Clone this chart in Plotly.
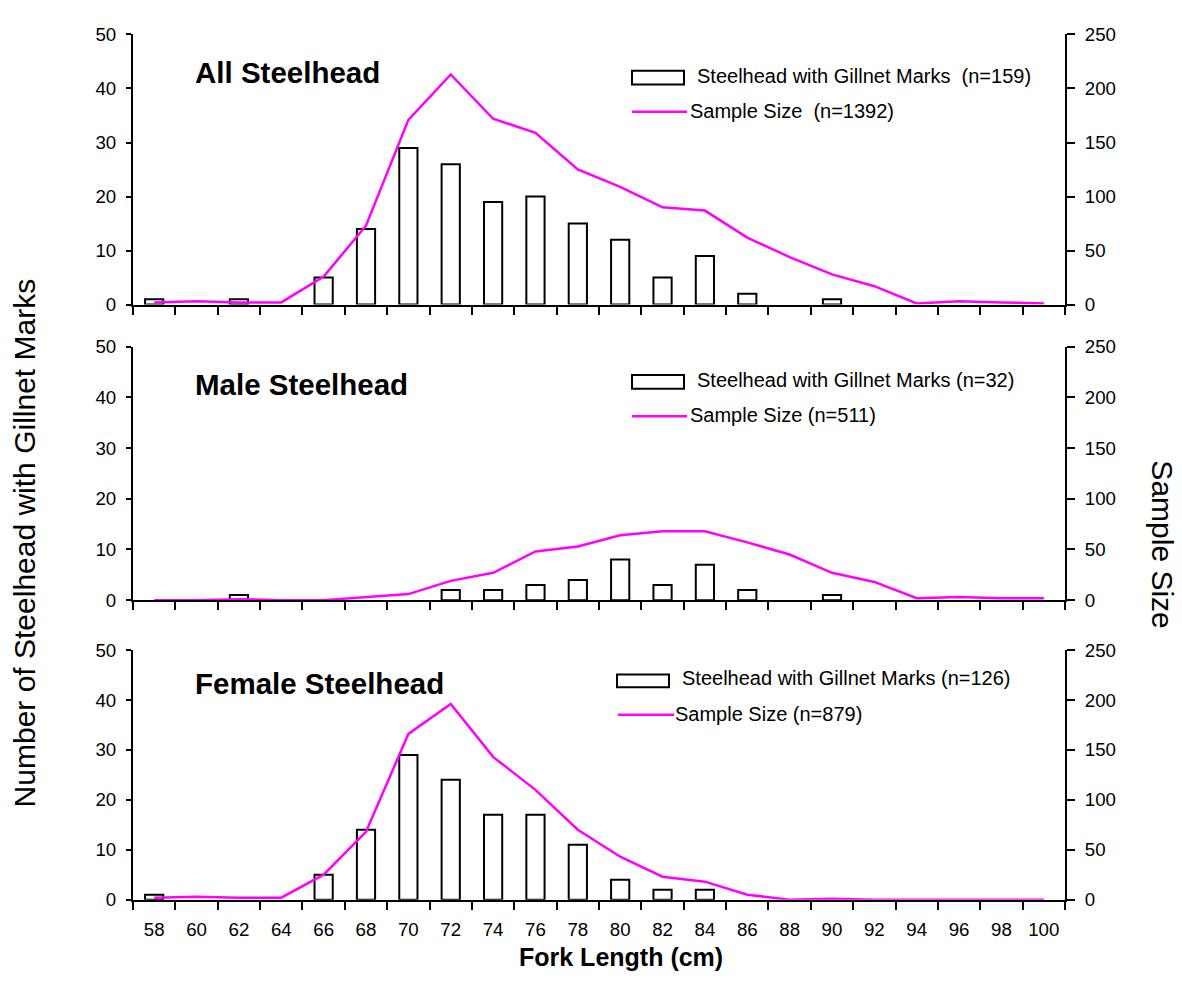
import plotly.graph_objects as go

# ---------------- data ----------------
fork_length = [58, 60, 62, 64, 66, 68, 70, 72, 74, 76, 78, 80, 82, 84, 86, 88, 90, 92, 94, 96, 98, 100]
fork_labels = [str(v) for v in fork_length]

all_marked = [1, 0, 1, 0, 5, 14, 29, 26, 19, 20, 15, 12, 5, 9, 2, 0, 1, 0, 0, 0, 0, 0]
all_sample = [2, 3, 2, 2, 26, 73, 171, 213, 172, 159, 125, 109, 90, 87, 62, 44, 28, 17, 1, 3, 2, 1]

male_marked = [0, 0, 1, 0, 0, 0, 0, 2, 2, 3, 4, 8, 3, 7, 2, 0, 1, 0, 0, 0, 0, 0]
male_sample = [0, 0, 1, 0, 0, 3, 6, 19, 27, 48, 53, 64, 68, 68, 57, 45, 27, 18, 2, 3, 2, 2]

female_marked = [1, 0, 0, 0, 5, 14, 29, 24, 17, 17, 11, 4, 2, 2, 0, 0, 0, 0, 0, 0, 0, 0]
female_sample = [2, 3, 2, 2, 25, 68, 166, 196, 143, 110, 70, 43, 23, 18, 5, 0, 1, 0, 0, 0, 0, 0]

panel_titles = ["All Steelhead", "Male Steelhead", "Female Steelhead"]
bar_names = ["Steelhead with Gillnet Marks\u00a0 (n=159)",
             "Steelhead with Gillnet Marks (n=32)",
             "Steelhead with Gillnet Marks (n=126)"]
line_names = ["Sample Size\u00a0 (n=1392)", "Sample Size (n=511)", "Sample Size (n=879)"]

left_ticks = [0, 10, 20, 30, 40, 50]
right_ticks = [0, 50, 100, 150, 200, 250]

y_title = "Number of Steelhead with Gillnet Marks"
y2_title = "Sample Size"
x_title = "Fork Length (cm)"

# ---------------- layout helpers ----------------
W, H = 1182, 986
FONT = "Arial, 'Liberation Sans', Helvetica, sans-serif"
MAGENTA = "#FF00FF"


def fy(px):
    return 1 - px / H


def fx(px):
    return px / W


X_DOM = [fx(133), fx(1065)]
PANEL_PX = [(25, 301), (344, 603), (654, 909)]  # (top, bottom) in pixels
TITLE_Y = [64, 383, 688]

# legend geometry per panel (pixels): box x0,x1,y0,y1 ; bar-text x,y ; line x0,x1,y ; line-text x,y
LEGEND_GEOM = [
    dict(box=(632, 684, 62, 76), btxt=(695, 67), line=(632, 687, 104), ltxt=(688, 103)),
    dict(box=(632, 684, 373, 387), btxt=(695, 378), line=(632, 687, 415), ltxt=(688, 414)),
    dict(box=(617, 669, 679, 692), btxt=(680, 683), line=(618, 674, 720), ltxt=(673, 719)),
]

boundaries = [v - 1 for v in fork_length] + [fork_length[-1] + 1]
XR = [boundaries[0], boundaries[-1]]


def aid(letter, n):
    return letter if n == 1 else f"{letter}{n}"


def lkey(letter, n):
    return f"{letter}axis" if n == 1 else f"{letter}axis{n}"


fig = go.Figure()
layout = {}
annotations = []
shapes = []

datasets = [(all_marked, all_sample), (male_marked, male_sample), (female_marked, female_sample)]

for i, (marked, sample) in enumerate(datasets):
    k = i + 1
    x_main, x_in = k, k + 3
    y_left, y_right, y_left_in, y_right_in = k, k + 3, k + 6, k + 9

    fig.add_trace(go.Bar(
        x=fork_length, y=[v if v else None for v in marked],
        xaxis=aid("x", x_main), yaxis=aid("y", y_left),
        width=0.86,
        marker=dict(color="white", line=dict(color="black", width=2)),
        name=bar_names[i], showlegend=False,
    ))
    fig.add_trace(go.Scatter(
        x=fork_length, y=sample,
        xaxis=aid("x", x_main), yaxis=aid("y", y_right),
        mode="lines", line=dict(color=MAGENTA, width=2.5),
        name=line_names[i], showlegend=False,
    ))

    top, bot = PANEL_PX[i]
    ydom = [fy(bot), fy(top)]

    layout[lkey("x", x_main)] = dict(
        domain=X_DOM, anchor=aid("y", y_left), range=XR,
        showline=True, linecolor="black", linewidth=2,
        tickmode="array", tickvals=fork_length, ticktext=fork_labels,
        ticks="", showticklabels=(k == 3),
        tickfont=dict(size=18.7, color="black", family=FONT),
        ticklabelstandoff=12,
        minor=dict(tickmode="array", tickvals=boundaries, ticks="outside",
                   ticklen=8, tickwidth=2, tickcolor="black", showgrid=False),
        showgrid=False, zeroline=False, fixedrange=True,
    )
    layout[lkey("x", x_in)] = dict(
        overlaying=aid("x", x_main), anchor=aid("y", y_left), range=XR,
        showline=False, tickmode="array", tickvals=boundaries,
        ticks="inside", ticklen=5, tickwidth=2, tickcolor="black",
        showticklabels=False, showgrid=False, zeroline=False,
    )
    layout[lkey("y", y_left)] = dict(
        domain=ydom, anchor=aid("x", x_main), range=[0, 50],
        showline=True, linecolor="black", linewidth=2,
        tickmode="array", tickvals=left_ticks,
        ticks="outside", ticklen=5, tickwidth=2, tickcolor="black",
        tickfont=dict(size=18.7, color="black", family=FONT),
        ticklabelstandoff=6,
        showgrid=False, zeroline=False, fixedrange=True,
    )
    layout[lkey("y", y_right)] = dict(
        overlaying=aid("y", y_left), side="right", anchor=aid("x", x_main),
        range=[0, 250], showline=True, linecolor="black", linewidth=2,
        tickmode="array", tickvals=right_ticks,
        ticks="outside", ticklen=8, tickwidth=2, tickcolor="black",
        tickfont=dict(size=18.7, color="black", family=FONT),
        ticklabelstandoff=6,
        showgrid=False, zeroline=False, fixedrange=True,
    )
    layout[lkey("y", y_left_in)] = dict(
        overlaying=aid("y", y_left), side="left", anchor=aid("x", x_main),
        range=[0, 50], showline=False, tickmode="array", tickvals=left_ticks,
        ticks="inside", ticklen=7, tickwidth=2, tickcolor="black",
        showticklabels=False, showgrid=False, zeroline=False,
    )
    layout[lkey("y", y_right_in)] = dict(
        overlaying=aid("y", y_left), side="right", anchor=aid("x", x_main),
        range=[0, 250], showline=False, tickmode="array", tickvals=right_ticks,
        ticks="inside", ticklen=5, tickwidth=2, tickcolor="black",
        showticklabels=False, showgrid=False, zeroline=False,
    )

    # legend (symbols as shapes, labels as text)
    g = LEGEND_GEOM[i]
    bx0, bx1, by0, by1 = g["box"]
    shapes.append(dict(type="rect", xref="paper", yref="paper",
                       x0=fx(bx0), x1=fx(bx1), y0=fy(by1), y1=fy(by0),
                       line=dict(color="black", width=2), fillcolor="white"))
    lx0, lx1, lyy = g["line"]
    shapes.append(dict(type="line", xref="paper", yref="paper",
                       x0=fx(lx0), x1=fx(lx1), y0=fy(lyy), y1=fy(lyy),
                       line=dict(color=MAGENTA, width=2.5)))
    annotations.append(dict(
        text=bar_names[i], x=fx(g["btxt"][0]), y=fy(g["btxt"][1]), xref="paper", yref="paper",
        xanchor="left", yanchor="middle", showarrow=False,
        font=dict(size=20, color="black", family=FONT)))
    annotations.append(dict(
        text=line_names[i], x=fx(g["ltxt"][0]), y=fy(g["ltxt"][1]), xref="paper", yref="paper",
        xanchor="left", yanchor="middle", showarrow=False,
        font=dict(size=20, color="black", family=FONT)))

    annotations.append(dict(
        text=panel_titles[i], x=fx(193), y=fy(TITLE_Y[i]), xref="paper", yref="paper",
        xanchor="left", yanchor="middle", showarrow=False,
        font=dict(size=29.5, color="black", family=FONT, weight="bold"),
    ))

annotations += [
    dict(text=y_title, x=fx(24), y=fy(545), xref="paper", yref="paper",
         textangle=-90, xanchor="center", yanchor="middle", showarrow=False,
         font=dict(size=30, color="black", family=FONT)),
    dict(text=y2_title, x=fx(1163), y=fy(546), xref="paper", yref="paper",
         textangle=90, xanchor="center", yanchor="middle", showarrow=False,
         font=dict(size=30, color="black", family=FONT)),
    dict(text=x_title, x=fx(621), y=fy(968), xref="paper", yref="paper",
         xanchor="center", yanchor="middle", showarrow=False,
         font=dict(size=25, color="black", family=FONT, weight="bold")),
]

fig.update_layout(
    width=W, height=H, autosize=False,
    margin=dict(l=0, r=0, t=0, b=0, pad=0),
    paper_bgcolor="white", plot_bgcolor="white",
    font=dict(family=FONT, color="black"),
    annotations=annotations,
    shapes=shapes,
    showlegend=False,
    **layout,
)

fig.write_html(
    "out.html",
    config={"displayModeBar": False},
    post_script="document.body.style.margin='0px';document.body.style.padding='0px';",
)
